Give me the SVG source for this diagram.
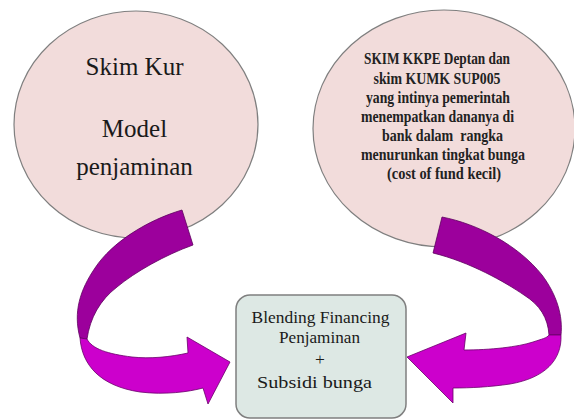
<svg xmlns="http://www.w3.org/2000/svg" width="574" height="419" viewBox="0 0 574 419">
<style>
.node{fill:#f2dcdb;stroke:#7f7f7f;stroke-width:1.2}
.box{fill:#dde8e4;stroke:#7f7f7f;stroke-width:1.5}
.t{font-family:'Liberation Serif','Times New Roman',serif;fill:#1a1a1a;text-anchor:middle}
.big{font-size:25px}
.sm{font-size:17px;font-weight:bold;fill:#222}
.md{font-size:17.5px}
.dark{fill:#9c009c;stroke:#5e005e;stroke-width:0.8}
.light{fill:#cc00cc;stroke:#6a006a;stroke-width:0.8}
</style>
<rect width="574" height="419" fill="#ffffff"/>
<g id="node-skim-kur">
<ellipse class="node" cx="136" cy="124.5" rx="122" ry="113.5"/>
<text class="t big" x="134.5" y="75">Skim Kur</text>
<text class="t big" x="134.5" y="137">Model</text>
<text class="t big" x="134.5" y="175">penjaminan</text>
</g>
<g id="node-skim-kkpe">
<ellipse class="node" cx="444" cy="128.5" rx="131" ry="118.5"/>
<text class="t sm" x="437" y="64" textLength="146" lengthAdjust="spacingAndGlyphs">SKIM KKPE Deptan dan</text>
<text class="t sm" x="437" y="83.5" textLength="127" lengthAdjust="spacingAndGlyphs">skim KUMK SUP005</text>
<text class="t sm" x="438" y="102.5" textLength="144" lengthAdjust="spacingAndGlyphs">yang intinya pemerintah</text>
<text class="t sm" x="437.5" y="121.5" textLength="153" lengthAdjust="spacingAndGlyphs">menempatkan dananya di</text>
<text class="t sm" x="442.5" y="140.5" textLength="121" lengthAdjust="spacingAndGlyphs" xml:space="preserve">bank dalam  rangka</text>
<text class="t sm" x="443" y="159.5" textLength="164" lengthAdjust="spacingAndGlyphs">menurunkan tingkat bunga</text>
<text class="t sm" x="444" y="178.5" textLength="114" lengthAdjust="spacingAndGlyphs">(cost of fund kecil)</text>
</g>
<g id="node-blending">
<rect class="box" x="236" y="295" width="170" height="123" rx="14" ry="14"/>
<text class="t md" x="320.5" y="323" textLength="138" lengthAdjust="spacingAndGlyphs">Blending Financing</text>
<text class="t md" x="319.5" y="342.5" textLength="81" lengthAdjust="spacingAndGlyphs">Penjaminan</text>
<text class="t md" x="320" y="365">+</text>
<text class="t md" x="314.5" y="388" textLength="115" lengthAdjust="spacingAndGlyphs">Subsidi bunga</text>
</g>
<g id="connectors">
<g id="arrow-left">
<path class="dark" d="M182,210 C148,220 112,242 95,268 C80,290 73,312 80,338 L87,339 C90,318 100,300 117,287 C135,272 165,255 193,245 Z"/>
<path class="light" d="M80,338 C82,365 100,386 140,392 C165,395 188,392 203,388 L208,404 L230,362 L187,337 L188,353 C170,357 150,359 132,357 C108,354 92,349 87,339 Z"/>
</g>
<g id="arrow-right">
<path class="dark" d="M442,217 C478,224 518,245 542,275 C557,295 563,316 561,335 L549,335 C548,318 540,305 524,295 C505,282 470,262 433,253 Z"/>
<path class="light" d="M561,335 C562,360 545,378 510,384 C490,387 470,388 453,388 L453,403 L407,357 L466,333 L464,350 C490,350 518,347 533,342 C542,339 547,338 549,335 Z"/>
</g>
</g>
</svg>
